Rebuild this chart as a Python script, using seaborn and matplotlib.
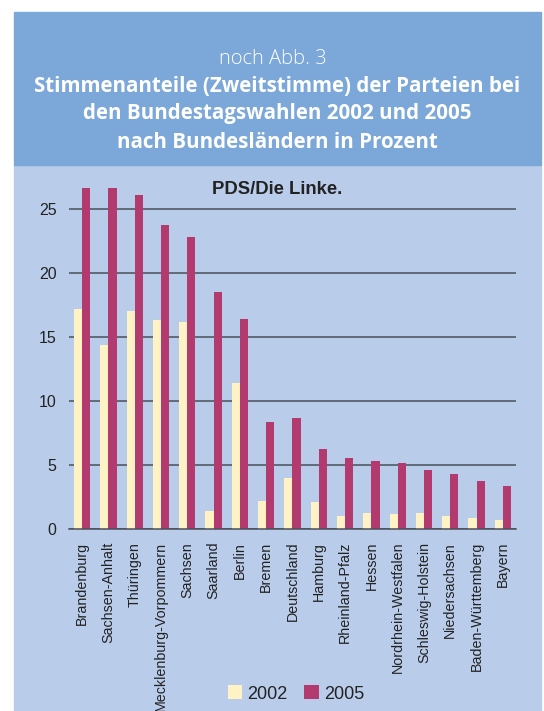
import numpy as np
import pandas as pd
import matplotlib
matplotlib.use("Agg")
import matplotlib.pyplot as plt
from matplotlib.patches import Rectangle, Patch
import seaborn as sns

# data (PDS / Die Linke, Zweitstimme in %)
laender = ["Brandenburg", "Sachsen-Anhalt", "Thüringen", "Mecklenburg-Vorpommern",
           "Sachsen", "Saarland", "Berlin", "Bremen", "Deutschland", "Hamburg",
           "Rheinland-Pfalz", "Hessen", "Nordrhein-Westfalen", "Schleswig-Holstein",
           "Niedersachsen", "Baden-Württemberg", "Bayern"]
werte_2002 = [17.2, 14.4, 17.0, 16.3, 16.2, 1.4, 11.4, 2.2, 4.0, 2.1,
              1.0, 1.3, 1.2, 1.3, 1.0, 0.9, 0.7]
werte_2005 = [26.6, 26.6, 26.1, 23.7, 22.8, 18.5, 16.4, 8.4, 8.7, 6.3,
              5.6, 5.3, 5.2, 4.6, 4.3, 3.8, 3.4]
jahre = ["2002", "2005"]
y_ticks = [0, 5, 10, 15, 20, 25]

df = pd.DataFrame({
    "Land": laender * 2,
    "Jahr": [jahre[0]] * len(laender) + [jahre[1]] * len(laender),
    "Anteil": werte_2002 + werte_2005,
})

col_2002 = "#FFF3C6"
col_2005 = "#B33A6E"
header_blue = "#7BA7D9"
panel_blue = "#B9CDEB"
grid_col = "#4a4f5a"

sns.set_style("white")
plt.rcParams["font.family"] = ["Liberation Sans", "DejaVu Sans"]

W, H = 544, 711
fig = plt.figure(figsize=(W / 100, H / 100), dpi=100)
fig.patch.set_facecolor("white")

# background boxes
fig.patches.append(Rectangle((14 / W, 0), 527 / W, (H - 165) / H,
                             transform=fig.transFigure, color=panel_blue, zorder=-2))
fig.patches.append(Rectangle((14 / W, (H - 165) / H), 527 / W, 153 / H,
                             transform=fig.transFigure, color=header_blue, zorder=-2))

# header text
hdr_font = ["Open Sans", "DejaVu Sans"]
cx = 277.5 / W
fig.text(273 / W, (H - 59) / H, "noch Abb. 3", ha="center", va="center",
         color="white", fontsize=14.5, family=hdr_font, weight="light")
head_lines = ["Stimmenanteile (Zweitstimme) der Parteien bei",
              "den Bundestagswahlen 2002 und 2005",
              "nach Bundesländern in Prozent"]
for i, line in enumerate(head_lines):
    fig.text(cx, (H - 86 - 28 * i) / H, line, ha="center", va="center",
             color="white", fontsize=14.8, family=hdr_font, weight="bold")

# axes
y0 = (H - 529.3) / H
ymax = 28
ax = fig.add_axes([69 / W, y0, (516 - 69) / W, ymax * 12.82 / H])
ax.set_facecolor("none")
ax.set_zorder(2)

sns.barplot(data=df, x="Land", y="Anteil", hue="Jahr", order=laender,
            palette=[col_2002, col_2005], saturation=1, width=0.62, gap=0,
            linewidth=0, ax=ax, legend=False)

ax.set_xlim(-0.5, len(laender) - 0.5)
ax.set_ylim(0, ymax)
ax.set_yticks(y_ticks)
ax.set_yticklabels([str(t) for t in y_ticks], fontsize=11.5, color="#222222")
ax.tick_params(axis="y", length=0, pad=9)
ax.yaxis.grid(True, color=grid_col, linewidth=1.1)
ax.set_axisbelow(True)

ax.set_xticks(range(len(laender)))
ax.set_xticklabels(laender, rotation=90, fontsize=10.3, color="#222222")
ax.tick_params(axis="x", which="major", length=0, pad=9)
ax.set_xticks(np.arange(-0.5, len(laender)), minor=True)
ax.tick_params(axis="x", which="minor", length=4, width=1, color=grid_col, direction="out")

for s in ["top", "right", "left"]:
    ax.spines[s].set_visible(False)
ax.spines["bottom"].set_color(grid_col)
ax.spines["bottom"].set_linewidth(1.1)
ax.set_xlabel("")
ax.set_ylabel("")

fig.text(277.5 / W, (H - 190) / H, "PDS/Die Linke.", ha="center", va="center",
         fontsize=13.3, weight="bold", color="#222222")

handles = [Patch(facecolor=col_2002, edgecolor="none"),
           Patch(facecolor=col_2005, edgecolor="none")]
fig.legend(handles, jahre, loc="center", bbox_to_anchor=(296 / W, (H - 694) / H),
           ncol=2, frameon=False, fontsize=13, handlelength=0.8, handleheight=0.8,
           handletextpad=0.3, columnspacing=0.9, labelcolor="#222222")

fig.savefig("out.png", dpi=100)
